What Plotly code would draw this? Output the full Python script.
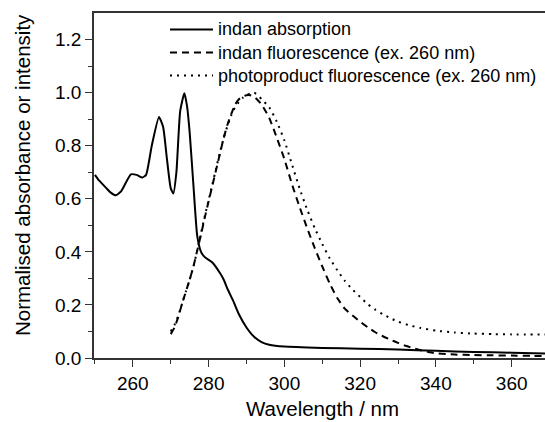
import plotly.graph_objects as go

# Indan absorption (solid)
abs_x = [250, 251, 252, 253, 254, 255.5, 257, 258.5, 259.5, 261, 262.5, 263.5, 265, 266.9,
         268, 269, 270, 270.7, 271.5, 272.5, 273.6, 274.3, 275, 276, 277, 278, 279, 281,
         283, 284, 285, 286.5, 288, 290, 292, 294, 296, 300, 310, 320, 330, 340, 350, 360, 370]
abs_y = [0.69, 0.67, 0.655, 0.64, 0.625, 0.613, 0.63, 0.67, 0.692, 0.69, 0.68, 0.69, 0.80, 0.908,
         0.87, 0.75, 0.64, 0.62, 0.70, 0.93, 0.998, 0.95, 0.85, 0.65, 0.46, 0.40, 0.38, 0.36,
         0.32, 0.295, 0.26, 0.215, 0.165, 0.115, 0.08, 0.06, 0.05, 0.043, 0.038, 0.035, 0.032,
         0.027, 0.023, 0.02, 0.016]

# Indan fluorescence (dashed)
fl_x = [270, 271, 272, 273, 274, 275, 276, 277, 278, 279, 280, 281, 282, 283, 284, 285, 286,
        287, 288, 289, 290, 291, 292, 294, 296, 298, 300, 302, 304, 306, 308, 310, 312, 314,
        316, 318, 320, 322, 324, 326, 328, 330, 332, 334, 336, 338, 340, 345, 350, 355, 360,
        365, 370]
fl_y = [0.09, 0.115, 0.155, 0.205, 0.25, 0.295, 0.345, 0.405, 0.465, 0.53, 0.59, 0.65, 0.71,
        0.77, 0.83, 0.88, 0.92, 0.955, 0.975, 0.985, 0.99, 0.99, 0.985, 0.955, 0.905, 0.83,
        0.75, 0.655, 0.57, 0.49, 0.415, 0.345, 0.28, 0.225, 0.185, 0.16, 0.137, 0.116, 0.097,
        0.082, 0.069, 0.057, 0.046, 0.037, 0.029, 0.023, 0.018, 0.013, 0.011, 0.01, 0.009,
        0.008, 0.008]

# Photoproduct fluorescence (dotted)
pp_x = [270, 271, 272, 273, 274, 275, 276, 277, 278, 279, 280, 281, 282, 283, 284, 285, 286,
        287, 288, 289, 290, 291, 292, 293, 294, 296, 298, 300, 302, 304, 306, 308, 310, 312,
        314, 316, 318, 320, 322, 324, 326, 328, 330, 333, 336, 340, 345, 350, 355, 360, 370]
pp_y = [0.10, 0.125, 0.16, 0.205, 0.25, 0.295, 0.345, 0.405, 0.47, 0.535, 0.595, 0.655, 0.715,
        0.775, 0.83, 0.875, 0.915, 0.945, 0.965, 0.98, 0.99, 0.997, 1.0, 0.99, 0.975, 0.945,
        0.89, 0.82, 0.73, 0.64, 0.56, 0.49, 0.43, 0.375, 0.33, 0.29, 0.258, 0.23, 0.203, 0.182,
        0.165, 0.15, 0.137, 0.123, 0.113, 0.103, 0.096, 0.092, 0.09, 0.089, 0.089]

names = ["indan absorption", "indan fluorescence (ex. 260 nm)",
         "photoproduct fluorescence (ex. 260 nm)"]
dashes = ["solid", "7px,5px", "2px,5px"]

FONT = "Liberation Sans, Arial, sans-serif"

# plot area geometry (pixels)
L, R, T, B = 94, 0, 13, 64
W, H = 545, 422
PW, PH = W - L - R, H - T - B


def px_to_paper(px, py):
    return (px - L) / PW, (H - B - py) / PH


fig = go.Figure()
for xs, ys, nm, ds in [(abs_x, abs_y, names[0], dashes[0]),
                       (fl_x, fl_y, names[1], dashes[1]),
                       (pp_x, pp_y, names[2], dashes[2])]:
    fig.add_trace(go.Scatter(x=xs, y=ys, mode="lines", name=nm, showlegend=False,
                             line=dict(color="black", width=2, dash=ds, shape="spline",
                                       smoothing=0.5)))

# legend drawn as paper-positioned samples and labels
row_y = [29.5, 52.5, 75.5]
for nm, ds, ry in zip(names, dashes, row_y):
    x0, yy = px_to_paper(170, ry)
    x1, _ = px_to_paper(213, ry)
    fig.add_shape(type="line", xref="paper", yref="paper", x0=x0, x1=x1, y0=yy, y1=yy,
                  line=dict(color="black", width=2, dash=ds))
    tx, _ = px_to_paper(217, ry)
    fig.add_annotation(text=nm, xref="paper", yref="paper", x=tx, y=yy, xanchor="left",
                       yanchor="middle", showarrow=False, font=dict(size=18, family=FONT),
                       borderpad=0)

# axis titles
xt, yt = px_to_paper(322, 408)
fig.add_annotation(text="Wavelength / nm", xref="paper", yref="paper", x=xt, y=yt,
                   xanchor="center", yanchor="middle", showarrow=False,
                   font=dict(size=20.5, family=FONT))
xt, yt = px_to_paper(23, 175)
fig.add_annotation(text="Normalised absorbance or intensity", xref="paper", yref="paper",
                   x=xt, y=yt, xanchor="center", yanchor="middle", showarrow=False,
                   textangle=-90, font=dict(size=20.5, family=FONT))

fig.update_layout(
    width=W, height=H,
    margin=dict(l=L, r=R, t=T, b=B),
    paper_bgcolor="white", plot_bgcolor="white",
    font=dict(family=FONT, color="black", size=18),
    showlegend=False,
)
fig.update_xaxes(
    range=[249.75, 368.8], showgrid=False, zeroline=False, automargin=False,
    showline=True, linecolor="#333", linewidth=1.5, mirror=True,
    ticks="outside", ticklen=7, tickwidth=1.3, tickcolor="#333",
    tickvals=[260, 280, 300, 320, 340, 360],
    minor=dict(ticks="outside", ticklen=4, tickwidth=1.3, tickcolor="#333",
               tickvals=[250, 270, 290, 310, 330, 350, 370]),
    tickfont=dict(size=19, family=FONT),
)
fig.update_yaxes(
    range=[0, 1.3], showgrid=False, zeroline=False, automargin=False,
    showline=True, linecolor="#333", linewidth=1.5, mirror=False,
    ticks="outside", ticklen=7, tickwidth=1.3, tickcolor="#333",
    tickvals=[0, 0.2, 0.4, 0.6, 0.8, 1.0, 1.2], tickformat=".1f",
    minor=dict(ticks="outside", ticklen=4, tickwidth=1.3, tickcolor="#333",
               tickvals=[0.1, 0.3, 0.5, 0.7, 0.9, 1.1]),
    tickfont=dict(size=19, family=FONT),
)

fig.write_html(
    "out.html",
    config={"displayModeBar": False},
    post_script="document.body.style.margin='0px';document.body.style.overflow='hidden';",
)
